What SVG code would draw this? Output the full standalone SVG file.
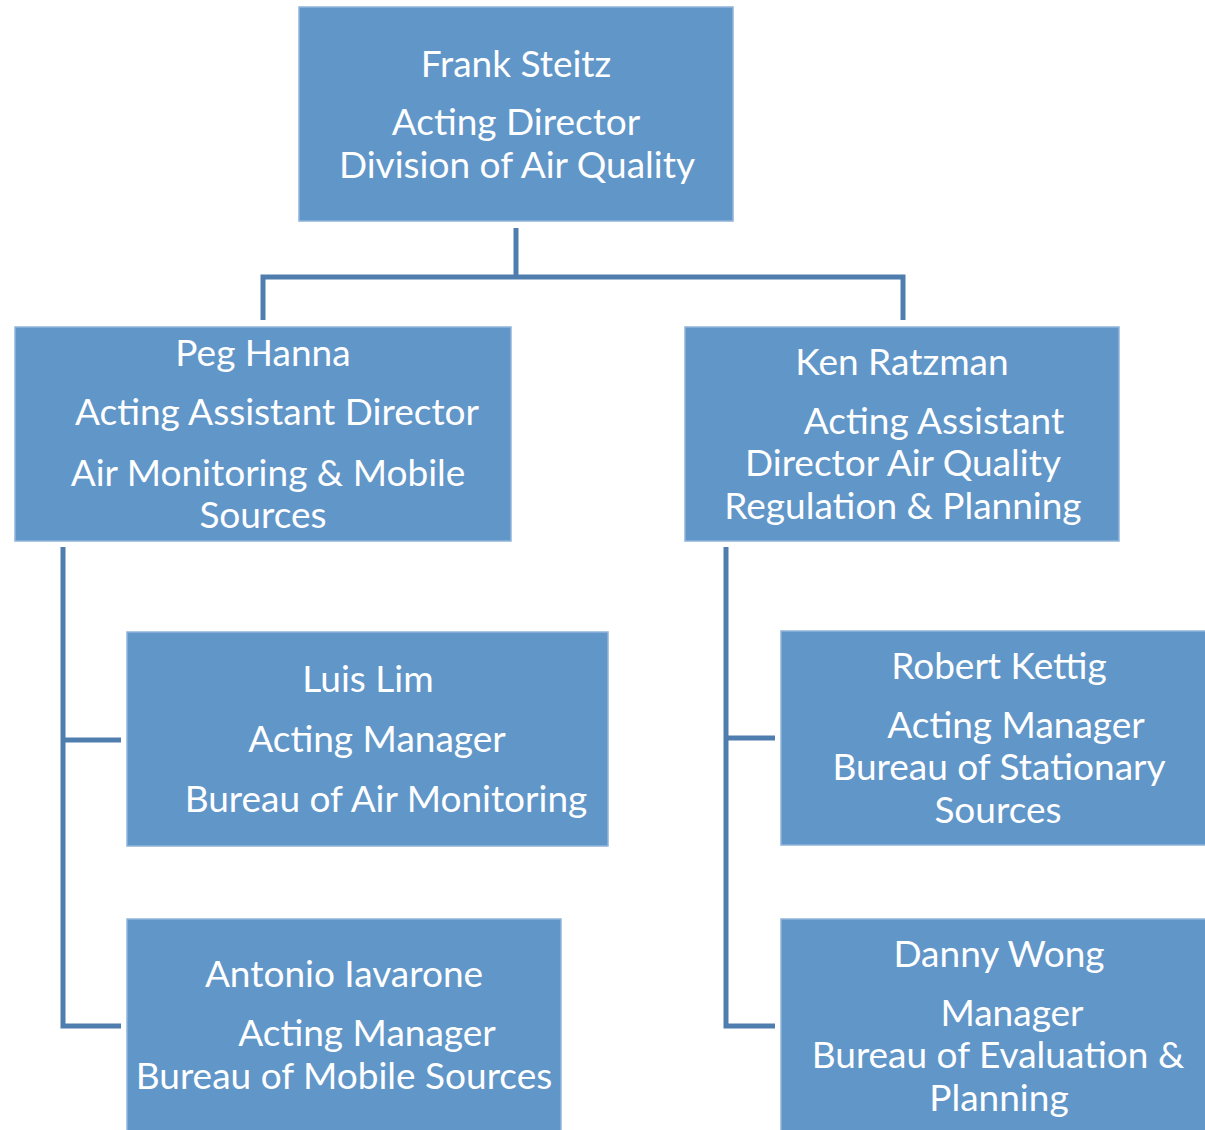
<svg xmlns="http://www.w3.org/2000/svg" width="1205" height="1130" viewBox="0 0 1205 1130">
<style>
.box{fill:#6196c9;stroke:#8fb4da;stroke-width:1.5}
.t{font-family:Lato,"Open Sans",sans-serif;font-size:37px;fill:#ffffff;text-anchor:middle}
.c{fill:none;stroke:#4f7eae;stroke-width:5}
</style>
<rect width="1205" height="1130" fill="#ffffff"/>
<g id="connectors">
<path class="c" d="M516 228V277M263 320V277H903V320"/>
<path class="c" d="M63 547V1026H121M63 740H121"/>
<path class="c" d="M726 547V1026H775M726 738H775"/>
</g>
<g id="frank">
<rect class="box" x="299" y="7" width="434" height="214"/>
<text class="t" x="516" y="77">Frank Steitz</text>
<text class="t" x="516" y="135">Acting Director</text>
<text class="t" x="517" y="178">Division of Air Quality</text>
</g>
<g id="peg">
<rect class="box" x="15" y="327" width="496" height="214"/>
<text class="t" x="263" y="366">Peg Hanna</text>
<text class="t" x="277" y="425">Acting Assistant Director</text>
<text class="t" x="268" y="486">Air Monitoring &amp; Mobile</text>
<text class="t" x="263" y="528">Sources</text>
</g>
<g id="ken">
<rect class="box" x="685" y="327" width="434" height="214"/>
<text class="t" x="902" y="375">Ken Ratzman</text>
<text class="t" x="934" y="434">Acting Assistant</text>
<text class="t" x="903" y="476">Director Air Quality</text>
<text class="t" x="903" y="519">Regulation &amp; Planning</text>
</g>
<g id="luis">
<rect class="box" x="127" y="632" width="481" height="214"/>
<text class="t" x="368" y="692">Luis Lim</text>
<text class="t" x="377" y="752">Acting Manager</text>
<text class="t" x="386" y="812">Bureau of Air Monitoring</text>
</g>
<g id="antonio">
<rect class="box" x="127" y="919" width="434" height="215"/>
<text class="t" x="344" y="987">Antonio Iavarone</text>
<text class="t" x="367" y="1046">Acting Manager</text>
<text class="t" x="344" y="1089">Bureau of Mobile Sources</text>
</g>
<g id="robert">
<rect class="box" x="781" y="631" width="428" height="214"/>
<text class="t" x="999" y="679">Robert Kettig</text>
<text class="t" x="1016" y="738">Acting Manager</text>
<text class="t" x="999" y="780">Bureau of Stationary</text>
<text class="t" x="998" y="823">Sources</text>
</g>
<g id="danny">
<rect class="box" x="781" y="919" width="428" height="215"/>
<text class="t" x="999" y="967">Danny Wong</text>
<text class="t" x="1012" y="1026">Manager</text>
<text class="t" x="998" y="1068">Bureau of Evaluation &amp;</text>
<text class="t" x="999" y="1111">Planning</text>
</g>
</svg>
